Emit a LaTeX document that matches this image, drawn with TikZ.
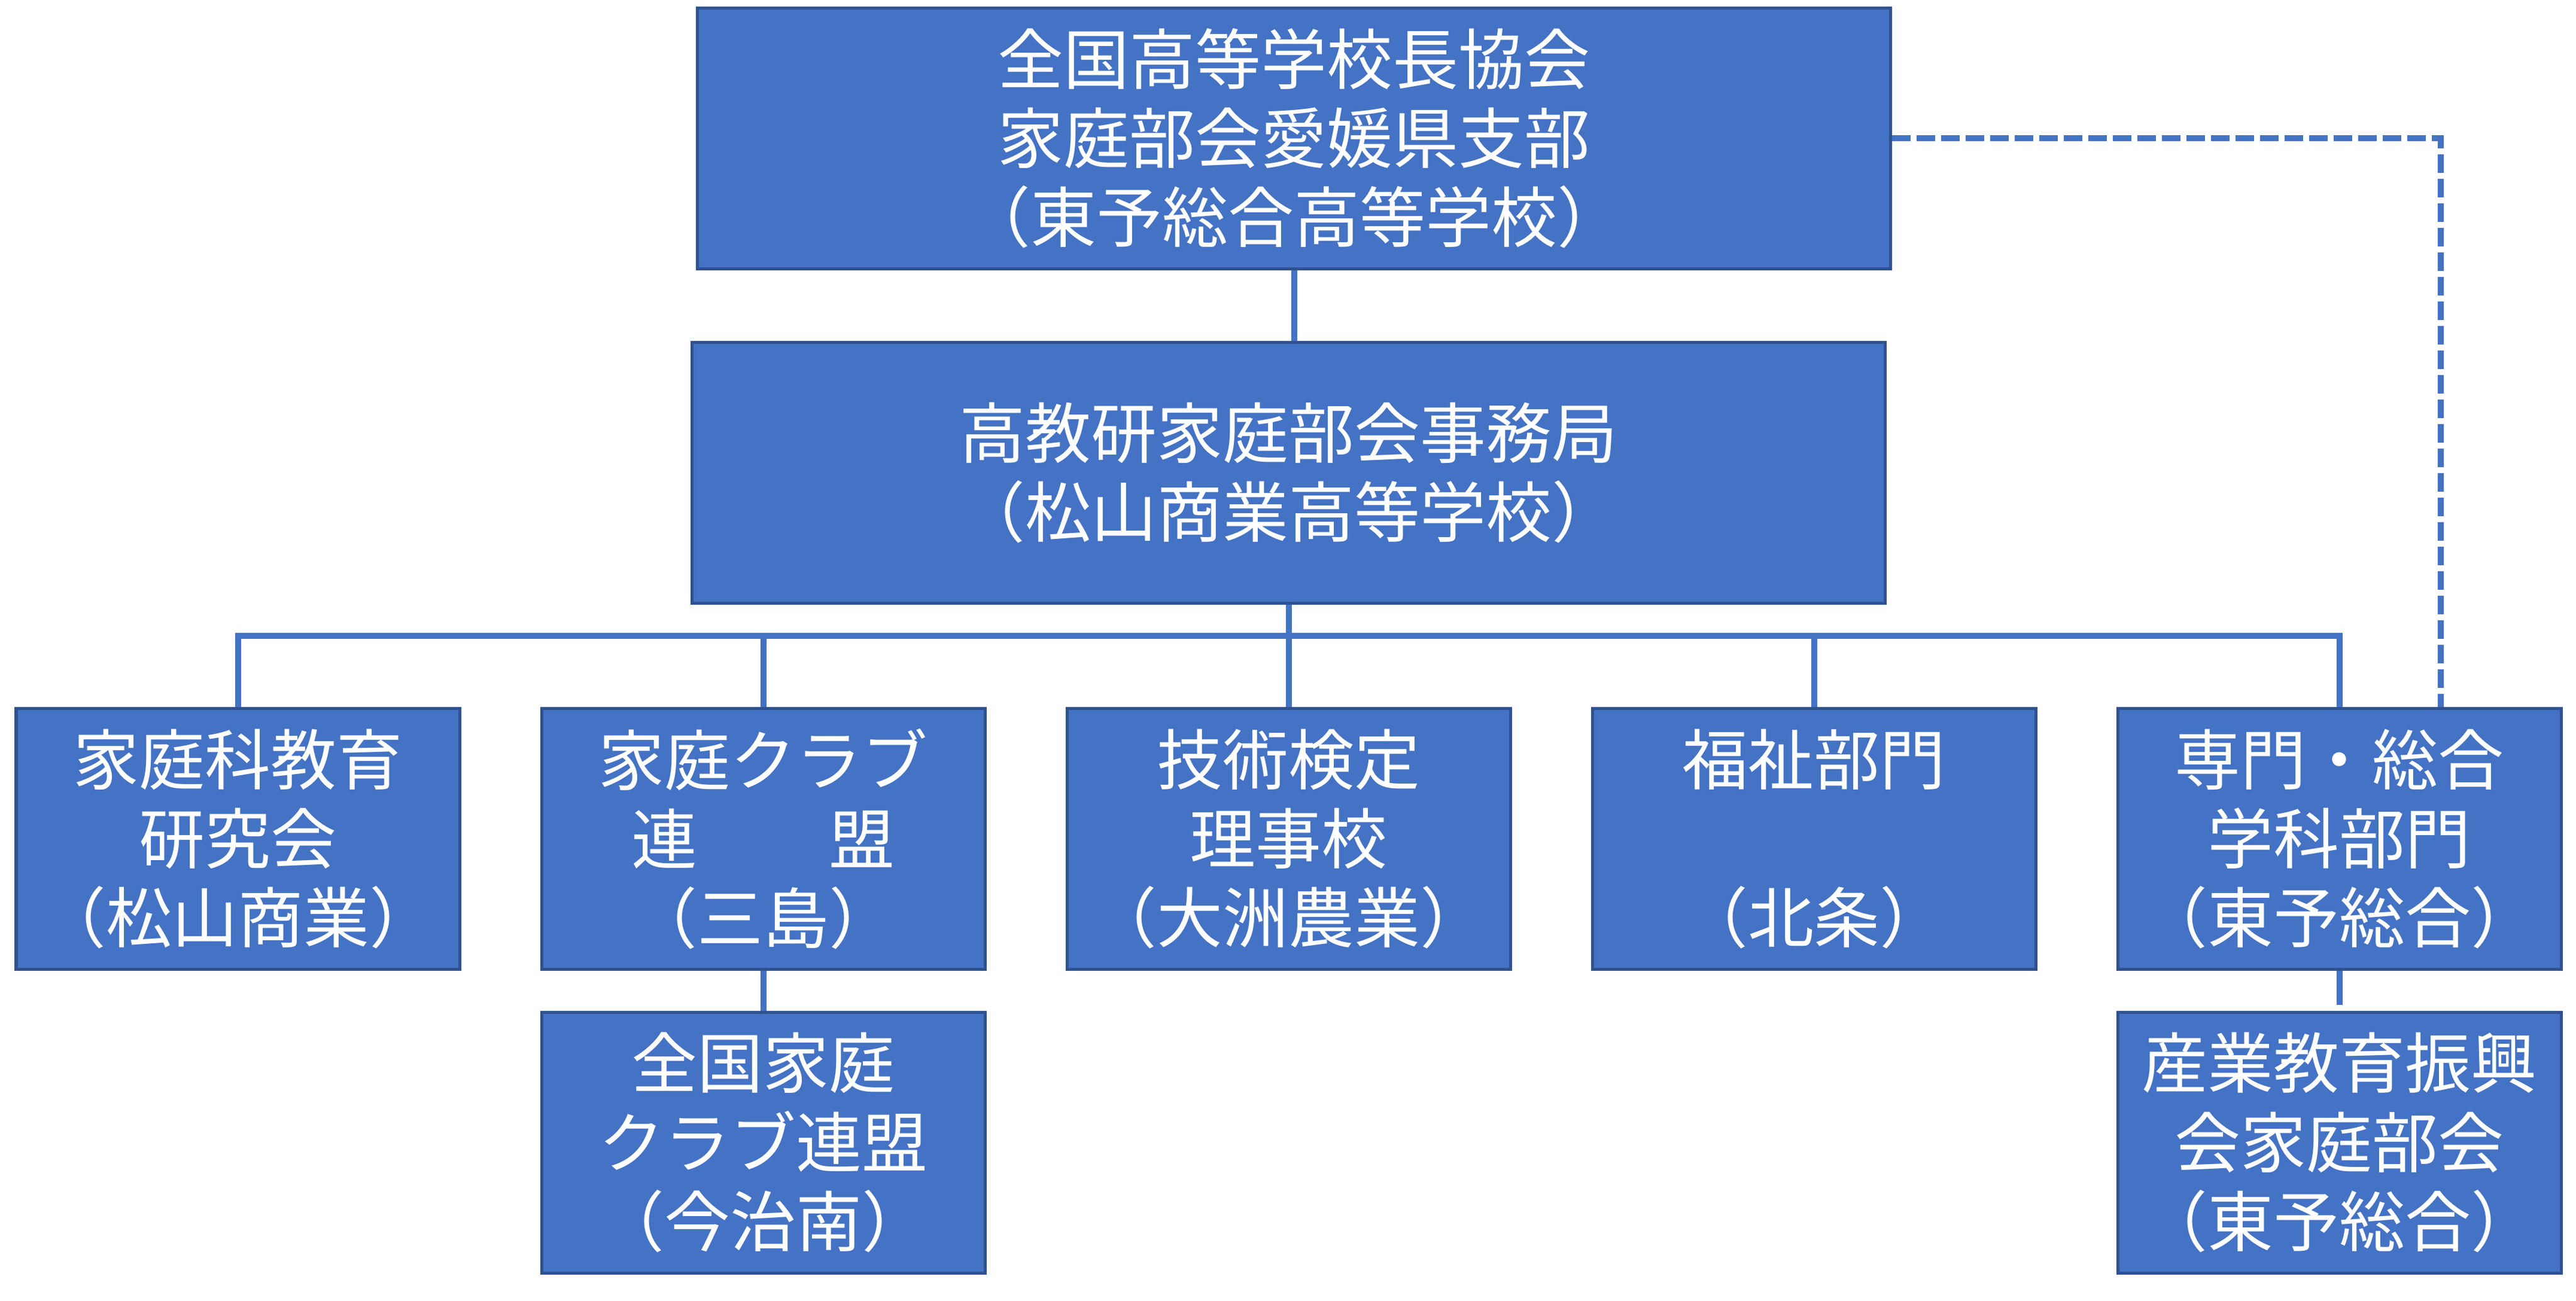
\documentclass[tikz,border=0pt]{standalone}
\usepackage{fontspec}
\setmainfont{Noto Sans CJK JP}
\newfontfamily\halfwidth{Noto Sans CJK JP}[RawFeature=+halt]
\newcommand{\kakko}[1]{{\halfwidth （}#1{\halfwidth ）}}
\definecolor{boxblue}{HTML}{4472C4}
\definecolor{boxedge}{HTML}{2F528F}

\begin{document}
\begin{tikzpicture}[node distance=8.78cm,
                main node/.style={rectangle,draw=boxedge,fill=boxblue,line width=0.05cm,text=white,align=center,inner sep=0pt,minimum height=4.36cm,font=\fontsize{31.3pt}{37.6pt}\selectfont},
                wide node/.style={main node,minimum width=19.94cm},
                unit node/.style={main node,minimum width=7.41cm},
                link/.style={draw=boxblue,line width=0.1cm}]
            \useasboundingbox (0,0) rectangle (43.05,-21.74);
            \node[wide node] (top) at (21.625,-2.315) {全国高等学校長協会\\家庭部会愛媛県支部\\\kakko{東予総合高等学校}};
            \node[wide node] (mid) at (21.535,-7.905) {高教研家庭部会事務局\\\kakko{松山商業高等学校}};
            \node[unit node] (c3) [below of=mid,node distance=6.12cm] {技術検定\\理事校\\\kakko{大洲農業}};
            \node[unit node] (c2) [left of=c3] {家庭クラブ\\連　　盟\\\kakko{三島}};
            \node[unit node] (c1) [left of=c2] {家庭科教育\\研究会\\\kakko{松山商業}};
            \node[unit node] (c4) [right of=c3] {福祉部門\\\mbox{}\\\kakko{北条}};
            \node[unit node] (c5) [right of=c4] {専門・総合\\学科部門\\\kakko{東予総合}};
            \node[unit node] (l2) [below of=c2,node distance=5.075cm] {全国家庭\\クラブ連盟\\\kakko{今治南}};
            \node[unit node] (l5) [below of=c5,node distance=5.075cm] {産業教育振興\\会家庭部会\\\kakko{東予総合}};
            \coordinate (bus) at (0,-10.63);
            \draw[link] (top.south) -- (top.south |- mid.north);
            \draw[link] (mid.south) -- (c3.north);
            \draw[link] (c1.north) |- (c3.north |- bus) -| (c5.north);
            \foreach \n in {c2,c4}
                \draw[link] (\n.north) -- (\n.north |- bus);
            \draw[link] (c2.south) -- (l2.north);
            \draw[link] (c5.south) -- ([yshift=0.1cm]l5.north);
            \draw[link,dash pattern=on 0.31cm off 0.1cm] (top.east) -| ([xshift=1.69cm]c5.north);
        \end{tikzpicture}
\end{document}
